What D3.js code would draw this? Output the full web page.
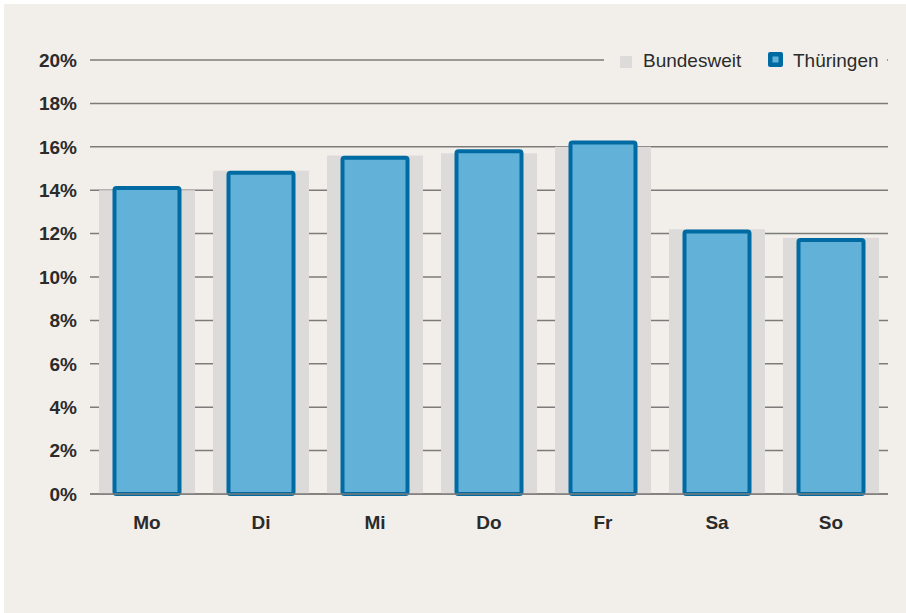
<!DOCTYPE html>
<html>
<head>
<meta charset="utf-8">
<script src="https://cdn.jsdelivr.net/npm/d3@7"></script>
<style>
  html, body { margin: 0; padding: 0; background: #f2efea; overflow: hidden; }
  svg { display: block; font-family: "Liberation Sans", Arial, sans-serif; }
</style>
</head>
<body>
<svg id="svg1" width="906" height="613"></svg>
<script>
var days = ['Mo', 'Di', 'Mi', 'Do', 'Fr', 'Sa', 'So'];
var bundesweit = [14.0, 14.9, 15.6, 15.7, 16.0, 12.2, 11.8];
var thueringen = [14.1, 14.8, 15.5, 15.8, 16.2, 12.1, 11.7];
var yTicks = [0, 2, 4, 6, 8, 10, 12, 14, 16, 18, 20];
var seriesNames = ['Bundesweit', 'Thüringen'];

var marginLeft = 90;
var marginTop = 60;
var plotW = 798;
var plotH = 434;

var svg = d3.select('svg');

// white strip along top and left edges, then the panel
svg.append('rect')
   .attr('width', 906)
   .attr('height', 613)
   .attr('fill', '#ffffff');
svg.append('rect')
   .attr('x', 4).attr('y', 4)
   .attr('width', 910)
   .attr('height', 620)
   .attr('fill', '#f2efea');

var g = svg.append('g')
    .attr('transform', 'translate(' + marginLeft + ',' + marginTop + ')');

var x = d3.scaleBand().domain(days).range([0, plotW]).padding(0);
var y = d3.scaleLinear().domain([0, 20]).range([plotH, 0]);

// gridlines
g.append('g')
 .selectAll('line')
 .data(yTicks)
 .enter()
 .append('line')
 .attr('x1', 0)
 .attr('x2', plotW)
 .attr('y1', function(d) { return y(d); })
 .attr('y2', function(d) { return y(d); })
 .attr('stroke', '#7d7b79')
 .attr('stroke-width', 1.5);

// y labels
g.append('g')
 .selectAll('text')
 .data(yTicks)
 .enter()
 .append('text')
 .attr('x', -13)
 .attr('y', function(d) { return y(d); })
 .attr('dy', '0.36em')
 .attr('text-anchor', 'end')
 .attr('font-size', 19)
 .attr('font-weight', 'bold')
 .attr('fill', '#2b2b2b')
 .text(function(d) { return d + '%'; });

// Bundesweit bars (wide, grey)
var greyW = 96;
g.append('g')
 .selectAll('rect')
 .data(bundesweit)
 .enter()
 .append('rect')
 .attr('x', function(d, i) { return x(days[i]) + x.bandwidth() / 2 - greyW / 2; })
 .attr('y', function(d) { return y(d); })
 .attr('width', greyW)
 .attr('height', function(d) { return plotH - y(d); })
 .attr('fill', '#dcdbd9');

// Thüringen bars
var blueW = 65;
g.append('g')
 .selectAll('rect')
 .data(thueringen)
 .enter()
 .append('rect')
 .attr('x', function(d, i) { return x(days[i]) + x.bandwidth() / 2 - blueW / 2; })
 .attr('y', function(d) { return y(d); })
 .attr('width', blueW)
 .attr('height', function(d) { return plotH - y(d); })
 .attr('rx', 2)
 .attr('fill', '#62b1d8')
 .attr('stroke', '#006ba3')
 .attr('stroke-width', 4);

// baseline
g.append('line')
 .attr('x1', 0).attr('x2', plotW)
 .attr('y1', y(0)).attr('y2', y(0))
 .attr('stroke', '#7d7b79')
 .attr('stroke-width', 1.5);

// x labels
g.append('g')
 .selectAll('text')
 .data(days)
 .enter()
 .append('text')
 .attr('x', function(d) { return x(d) + x.bandwidth() / 2; })
 .attr('y', plotH + 35)
 .attr('text-anchor', 'middle')
 .attr('font-size', 19)
 .attr('font-weight', 'bold')
 .attr('fill', '#2b2b2b')
 .text(function(d) { return d; });

// legend
var legend = svg.append('g');
legend.append('rect')
      .attr('x', 604).attr('y', 48)
      .attr('width', 283).attr('height', 24)
      .attr('fill', '#f2efea');

legend.append('rect')
      .attr('x', 620).attr('y', 56)
      .attr('width', 12).attr('height', 12)
      .attr('fill', '#dcdbd9');
legend.append('text')
      .attr('x', 643).attr('y', 67)
      .attr('font-size', 19)
      .attr('fill', '#2b2b2b')
      .text(seriesNames[0]);

legend.append('rect')
      .attr('x', 768).attr('y', 52)
      .attr('width', 15).attr('height', 15)
      .attr('rx', 2)
      .attr('fill', '#006ba3');
legend.append('rect')
      .attr('x', 772.5).attr('y', 56.5)
      .attr('width', 6).attr('height', 6)
      .attr('fill', '#62b1d8');
legend.append('text')
      .attr('x', 793).attr('y', 67)
      .attr('font-size', 19)
      .attr('fill', '#2b2b2b')
      .text(seriesNames[1]);
</script>
</body>
</html>
